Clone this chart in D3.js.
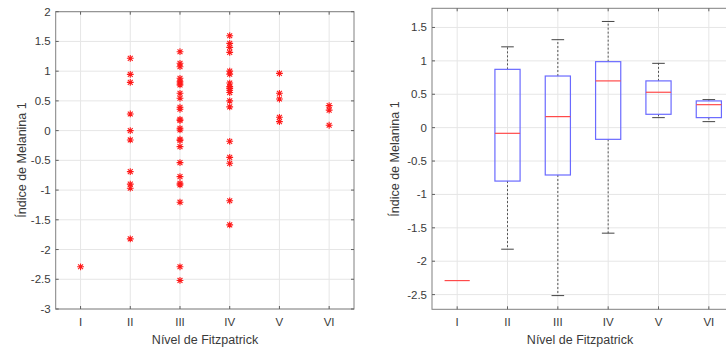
<!DOCTYPE html>
<html>
<head>
<meta charset="utf-8">
<script src="https://cdn.jsdelivr.net/npm/d3@7"></script>
<style>
  html, body { margin: 0; padding: 0; background: #fff; }
  svg { display: block; font-family: "Liberation Sans", Arial, sans-serif; }
</style>
</head>
<body>
<svg id="chart" width="726" height="349"></svg>
<script>
// categories (Fitzpatrick levels)
const categories = ['I', 'II', 'III', 'IV', 'V', 'VI'];

// melanin index samples per level
const valsI   = [-2.29];
const valsII  = [1.216, 0.946, 0.812, 0.28, 0.0, -0.157, -0.689, -0.90, -0.968, -1.82];
const valsIII = [1.327, 1.132, 1.075, 0.88, 0.83, 0.80, 0.77, 0.628, 0.544, 0.393, 0.359, 0.19, 0.17,
                 0.04, 0.011, -0.145, -0.165, -0.27, -0.538, -0.773, -0.885, -0.913, -1.204, -2.29, -2.52];
const valsIV  = [1.596, 1.467, 1.40, 1.316, 1.00, 0.95, 0.80, 0.74, 0.71, 0.68, 0.64, 0.50, 0.40,
                 -0.18, -0.45, -0.55, -1.18, -1.585];
const valsV   = [0.963, 0.628, 0.532, 0.224, 0.151];
const valsVI  = [0.42, 0.345, 0.09];
const samples = [valsI, valsII, valsIII, valsIV, valsV, valsVI];

// box plot statistics
const boxLower  = [-2.29, -1.82, -2.515, -1.58, 0.15, 0.09];
const boxQ1     = [-2.29, -0.80, -0.709, -0.175, 0.20, 0.15];
const boxMedian = [-2.29, -0.085, 0.165, 0.70, 0.53, 0.344];
const boxQ3     = [-2.29, 0.873, 0.773, 0.988, 0.70, 0.40];
const boxUpper  = [-2.29, 1.21, 1.317, 1.59, 0.963, 0.42];

// tick values
const leftTicks  = d3.range(-3, 2.01, 0.5);
const rightTicks = d3.range(-2.5, 1.51, 0.5);

const svg = d3.select('#chart');
const TXT = '#3a3a3a', AXIS = '#808080', GRID = '#e6e6e6';
const fmt = v => String(+v.toFixed(1));

function drawFrame(g, x, y, yTicks) {
  const [x0, x1] = x.range();
  const [y0, y1] = y.range(); // bottom, top
  const idx = d3.range(1, categories.length + 1);

  // grid
  g.append('g').selectAll('line').data(yTicks).enter().append('line')
    .attr('x1', x0).attr('x2', x1)
    .attr('y1', d => y(d)).attr('y2', d => y(d))
    .attr('stroke', GRID).attr('stroke-width', 1);
  g.append('g').selectAll('line').data(idx).enter().append('line')
    .attr('x1', d => x(d)).attr('x2', d => x(d))
    .attr('y1', y0).attr('y2', y1)
    .attr('stroke', GRID).attr('stroke-width', 1);

  // box outline
  g.append('rect')
    .attr('x', x0).attr('y', y1).attr('width', x1 - x0).attr('height', y0 - y1)
    .attr('fill', 'none').attr('stroke', AXIS).attr('stroke-width', 1);

  // inward ticks
  const tk = g.append('g').attr('stroke', '#606060').attr('stroke-width', 1);
  yTicks.forEach(v => {
    tk.append('line').attr('x1', x0).attr('x2', x0 + 3).attr('y1', y(v)).attr('y2', y(v));
    tk.append('line').attr('x1', x1).attr('x2', x1 - 3).attr('y1', y(v)).attr('y2', y(v));
  });
  idx.forEach(i => {
    tk.append('line').attr('x1', x(i)).attr('x2', x(i)).attr('y1', y0).attr('y2', y0 - 3);
    tk.append('line').attr('x1', x(i)).attr('x2', x(i)).attr('y1', y1).attr('y2', y1 + 3);
  });

  // tick labels
  g.append('g').selectAll('text').data(yTicks).enter().append('text')
    .attr('x', x0 - 5).attr('y', d => y(d)).attr('dy', '0.35em')
    .attr('text-anchor', 'end').attr('font-size', 11.5).attr('fill', TXT)
    .text(fmt);
  g.append('g').selectAll('text').data(categories).enter().append('text')
    .attr('x', (d, i) => x(i + 1)).attr('y', y0 + 17)
    .attr('text-anchor', 'middle').attr('font-size', 11.5).attr('fill', TXT)
    .text(d => d);
}

function labels(g, cx, ly, lx, cy) {
  g.append('text').attr('x', cx).attr('y', ly)
    .attr('text-anchor', 'middle').attr('font-size', 12.5).attr('fill', TXT)
    .text('Nível de Fitzpatrick');
  g.append('text').attr('transform', `translate(${lx},${cy}) rotate(-90)`)
    .attr('text-anchor', 'middle').attr('font-size', 12.5).attr('fill', TXT)
    .text('Índice de Melanina 1');
}

// asterisk marker like MATLAB '*'
function asterisk(r) {
  const d = r * 0.72;
  return `M${-r},0H${r}M0,${-r}V${r}M${-d},${-d}L${d},${d}M${-d},${d}L${d},${-d}`;
}

// ---------- left panel: scatter ----------
const xL = d3.scaleLinear().domain([0.5, 6.5]).range([55.7, 354]);
const yL = d3.scaleLinear().domain([-3, 2]).range([309, 11.7]);
const gL = svg.append('g');
drawFrame(gL, xL, yL, leftTicks);

const pts = samples.flatMap((arr, i) => arr.map(v => ({ c: i + 1, v })));
gL.append('g').selectAll('path').data(pts).enter().append('path')
  .attr('transform', d => `translate(${xL(d.c)},${yL(d.v)})`)
  .attr('d', asterisk(3.4))
  .attr('fill', 'none').attr('stroke', '#ff1a1a').attr('stroke-width', 1.1);

labels(gL, 205, 344, 26, 160);

// ---------- right panel: box plot ----------
const xR = d3.scaleLinear().domain([0.5, 6.5]).range([432, 734]);
const yR = d3.scaleLinear().domain([-2.72, 1.787]).range([309.3, 8.3]);
const gR = svg.append('g');
drawFrame(gR, xR, yR, rightTicks);

const boxes = categories.map((c, i) => ({
  c: i + 1, lo: boxLower[i], q1: boxQ1[i], med: boxMedian[i], q3: boxQ3[i], hi: boxUpper[i]
}));
const bw = 0.25, cw = 0.125;
const bg = gR.append('g').selectAll('g').data(boxes).enter().append('g');

// whiskers
bg.filter(d => d.hi > d.q3).append('line')
  .attr('x1', d => xR(d.c)).attr('x2', d => xR(d.c))
  .attr('y1', d => yR(d.q3)).attr('y2', d => yR(d.hi))
  .attr('stroke', '#555').attr('stroke-width', 1).attr('stroke-dasharray', '2,2');
bg.filter(d => d.lo < d.q1).append('line')
  .attr('x1', d => xR(d.c)).attr('x2', d => xR(d.c))
  .attr('y1', d => yR(d.q1)).attr('y2', d => yR(d.lo))
  .attr('stroke', '#555').attr('stroke-width', 1).attr('stroke-dasharray', '2,2');
// caps
['lo', 'hi'].forEach(k => {
  bg.filter(d => d.hi > d.lo).append('line')
    .attr('x1', d => xR(d.c - cw)).attr('x2', d => xR(d.c + cw))
    .attr('y1', d => yR(d[k])).attr('y2', d => yR(d[k]))
    .attr('stroke', '#444').attr('stroke-width', 1);
});
// box
bg.append('rect')
  .attr('x', d => xR(d.c - bw)).attr('width', d => xR(d.c + bw) - xR(d.c - bw))
  .attr('y', d => yR(d.q3)).attr('height', d => yR(d.q1) - yR(d.q3))
  .attr('fill', 'none').attr('stroke', '#6a6aff').attr('stroke-width', 1.2);
// median
bg.append('line')
  .attr('x1', d => xR(d.c - bw)).attr('x2', d => xR(d.c + bw))
  .attr('y1', d => yR(d.med)).attr('y2', d => yR(d.med))
  .attr('stroke', '#ff4a4a').attr('stroke-width', 1.2);

labels(gR, 580, 344, 399, 159);
</script>
</body>
</html>
